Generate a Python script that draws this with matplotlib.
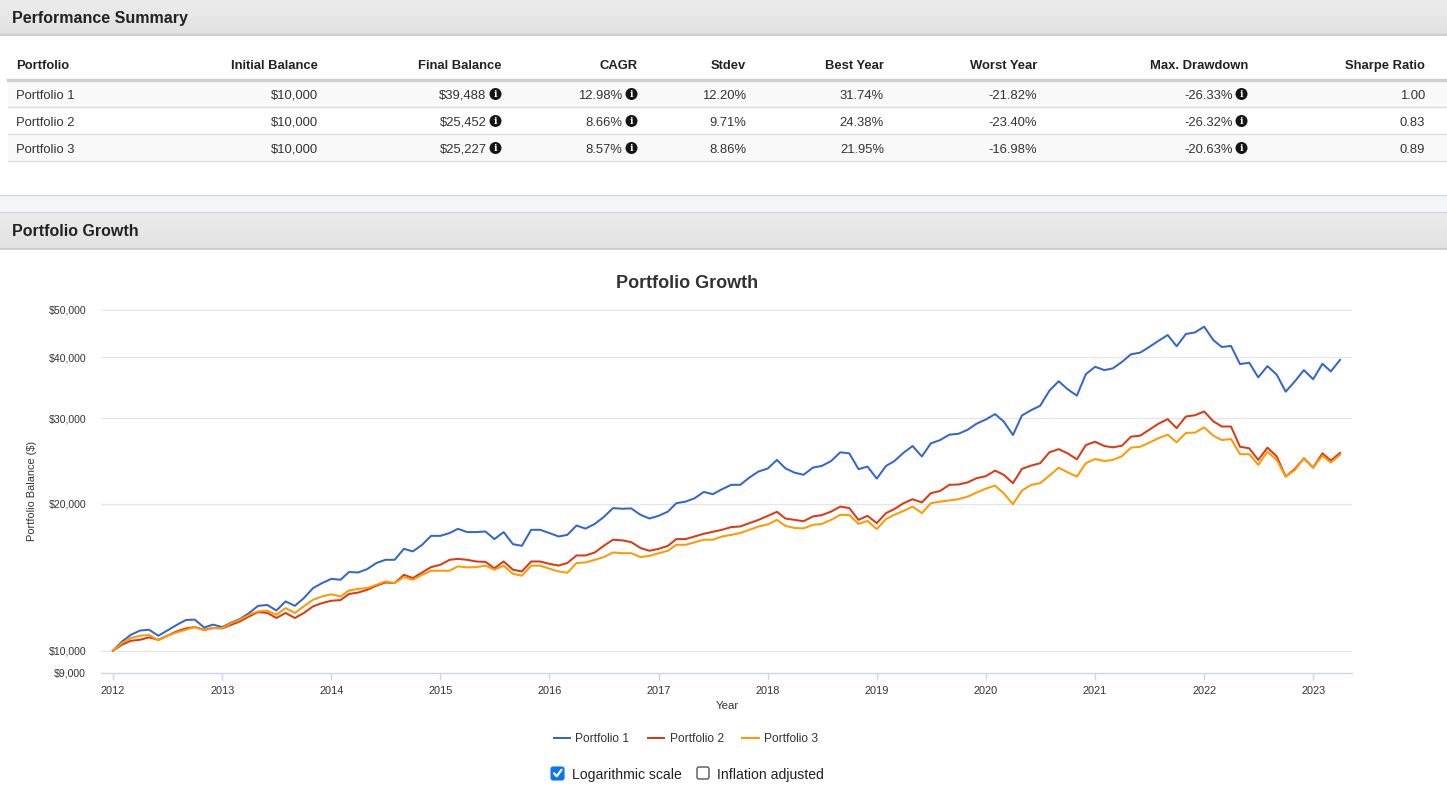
import matplotlib
matplotlib.use('Agg')
import matplotlib.pyplot as plt
import matplotlib.dates as mdates
import numpy as np
import pandas as pd
from matplotlib.patches import Rectangle, FancyBboxPatch, Circle
from matplotlib.ticker import FixedLocator, FuncFormatter, NullLocator
from matplotlib.colors import LinearSegmentedColormap

plt.rcParams['font.family'] = ['Liberation Sans', 'DejaVu Sans']

# ---------------- data ----------------
portfolios = ['Portfolio 1', 'Portfolio 2', 'Portfolio 3']
initial_balance = [10000, 10000, 10000]
final_balance = [39488, 25452, 25227]
cagr = [12.98, 8.66, 8.57]
stdev = [12.20, 9.71, 8.86]
best_year = [31.74, 24.38, 21.95]
worst_year = [-21.82, -23.40, -16.98]
max_drawdown = [-26.33, -26.32, -20.63]
sharpe = [1.00, 0.83, 0.89]

start_month = '2012-01-01'
year_ticks = list(range(2012, 2024))
y_ticks = [9000, 10000, 20000, 30000, 40000, 50000]

portfolio_1 = [
    10000, 10450, 10780, 11000, 11040, 10730, 11000, 11290, 11560, 11580, 11160, 11310,
    11180, 11430, 11610, 11950, 12360, 12410, 12090, 12620, 12360, 12820, 13440, 13760,
    14040, 13980, 14500, 14470, 14700, 15130, 15360, 15360, 16180, 15980, 16490, 17200,
    17200, 17430, 17780, 17510, 17510, 17560, 16940, 17510, 16540, 16410, 17700, 17700,
    17430, 17150, 17280, 18060, 17800, 18200, 18800, 19610, 19550, 19580, 19000, 18670,
    18910, 19290, 20070, 20220, 20540, 21170, 20940, 21440, 21890, 21890, 22660, 23310,
    23640, 24620, 23670, 23180, 22950, 23740, 23930, 24490, 25520, 25400, 23570, 23860,
    22540, 23930, 24490, 25480, 26290, 25030, 26620, 27040, 27740, 27850, 28380, 29210,
    29800, 30570, 29520, 27700, 30370, 31150, 31790, 34150, 35700, 34380, 33360, 36910,
    38220, 37630, 37930, 39110, 40550, 40870, 41970, 43200, 44410, 42110, 44630, 44950,
    46200, 43340, 41970, 42180, 38720, 38960, 36360, 38350, 36830, 33990, 35700, 37630,
    36040, 38770, 37400, 39488]
portfolio_2 = [
    10000, 10290, 10480, 10530, 10650, 10530, 10730, 10950, 11110, 11180, 11040, 11130,
    11110, 11310, 11480, 11760, 12000, 11950, 11670, 11950, 11670, 11950, 12330, 12520,
    12660, 12700, 13070, 13160, 13330, 13590, 13800, 13760, 14310, 14090, 14470, 14840,
    15000, 15360, 15430, 15360, 15240, 15210, 14760, 15240, 14660, 14540, 15240, 15240,
    15070, 14950, 15130, 15680, 15680, 15900, 16410, 16890, 16840, 16700, 16240, 16030,
    16180, 16410, 16940, 16940, 17150, 17370, 17530, 17700, 17930, 17980, 18270, 18550,
    18900, 19270, 18670, 18550, 18430, 18850, 18970, 19290, 19750, 19610, 18550, 18910,
    18270, 19150, 19520, 20070, 20450, 20140, 21040, 21260, 21890, 21920, 22140, 22580,
    22800, 23410, 22950, 22060, 23600, 23970, 24240, 25520, 25910, 25400, 24690, 26410,
    26830, 26290, 26130, 26330, 27480, 27610, 28380, 29210, 29850, 28610, 30230, 30400,
    30950, 29540, 28830, 28830, 26200, 26010, 24620, 26090, 25030, 22760, 23600, 24810,
    23740, 25400, 24540, 25452]
portfolio_3 = [
    10000, 10370, 10620, 10730, 10770, 10500, 10730, 10900, 11040, 11180, 11010, 11130,
    11130, 11400, 11570, 11850, 12040, 12080, 11850, 12230, 11950, 12330, 12720, 12920,
    13050, 12920, 13290, 13390, 13440, 13650, 13870, 13760, 14160, 13980, 14310, 14590,
    14590, 14590, 14890, 14820, 14840, 14940, 14660, 14940, 14380, 14250, 14940, 14940,
    14730, 14540, 14450, 15130, 15170, 15360, 15560, 15900, 15850, 15850, 15560, 15650,
    15850, 16030, 16490, 16490, 16680, 16890, 16890, 17150, 17280, 17430, 17700, 17980,
    18150, 18550, 18030, 17850, 17820, 18120, 18200, 18550, 19000, 18970, 18200, 18460,
    17760, 18620, 19000, 19350, 19750, 19150, 20070, 20220, 20330, 20450, 20700, 21100,
    21500, 21800, 21040, 19970, 21300, 21890, 22060, 22860, 23740, 23220, 22760, 24240,
    24730, 24490, 24620, 25060, 26090, 26200, 26710, 27280, 27740, 26760, 27970, 28000,
    28700, 27600, 27040, 27180, 25300, 25300, 24050, 25600, 24620, 22760, 23480, 24810,
    23740, 25120, 24310, 25227]

series = [portfolio_1, portfolio_2, portfolio_3]
colors = ['#3366cc', '#dc3912', '#ff9900']

# ---------------- figure ----------------
W, H = 1447, 794
PT = 0.72  # points per pixel at 100 dpi
fig = plt.figure(figsize=(W / 100, H / 100), dpi=100)
fig.patch.set_facecolor('white')

bg = fig.add_axes([0, 0, 1, 1], zorder=0)
bg.set_xlim(0, W)
bg.set_ylim(H, 0)
bg.axis('off')

head_cmap = LinearSegmentedColormap.from_list('hd', ['#ececec', '#e1e1e1'])
grad = np.linspace(0, 1, 50).reshape(-1, 1)


def header_bar(y0, y1, title):
    bg.imshow(grad, extent=(0, W, y1, y0), aspect='auto', cmap=head_cmap, zorder=1)
    bg.plot([0, W], [y1 - 0.5, y1 - 0.5], color='#c8c8c8', lw=1.2, zorder=2)
    bg.text(12, (y0 + y1) / 2 + 6, title, fontsize=16 * PT, fontweight='bold',
            color='#222222', ha='left', va='baseline', zorder=3)


header_bar(0, 35, 'Performance Summary')
# separator band
bg.add_patch(Rectangle((0, 195), W, 17, facecolor='#f4f5f8', edgecolor='none', zorder=1))
bg.plot([0, W], [195, 195], color='#d8d8d8', lw=1.0, zorder=2)
bg.plot([0, W], [212, 212], color='#d8d8d8', lw=1.0, zorder=2)
header_bar(212, 249, 'Portfolio Growth')

# ---------------- table ----------------
col_right = [318, 502, 638, 746, 884, 1037, 1248, 1425]
col_names = ['Initial Balance', 'Final Balance', 'CAGR', 'Stdev', 'Best Year',
             'Worst Year', 'Max. Drawdown', 'Sharpe Ratio']
has_icon = [False, True, True, False, False, False, True, False]
head_base = 69
row_mid = [94, 121, 148]
row_top = [80, 107, 134]
row_bg = ['#f9f9f9', '#ffffff', '#f9f9f9']

bg.text(16, head_base, 'Portfolio', fontsize=13 * PT, fontweight='bold', color='#222222',
        ha='left', va='baseline', zorder=3)
for name, xr in zip(col_names, col_right):
    bg.text(xr, head_base, name, fontsize=13 * PT, fontweight='bold', color='#222222',
            ha='right', va='baseline', zorder=3)

for i in range(3):
    bg.add_patch(Rectangle((8, row_top[i]), W - 8, 27, facecolor=row_bg[i],
                           edgecolor='none', zorder=1))
    bg.plot([8, W], [row_top[i] + 27, row_top[i] + 27], color='#dddddd', lw=1.0, zorder=2)
bg.plot([8, W], [80, 80], color='#cfcfcf', lw=2.4, zorder=2)


def info_icon(cx, cy):
    bg.add_patch(Circle((cx, cy), 6.0, facecolor='#151515', edgecolor='none', zorder=4))
    bg.text(cx, cy + 0.4, 'i', fontsize=9.5 * PT, fontweight='bold', color='white',
            ha='center', va='center', family='DejaVu Serif', zorder=5)


for i in range(3):
    vals = [f'${initial_balance[i]:,}', f'${final_balance[i]:,}', f'{cagr[i]:.2f}%',
            f'{stdev[i]:.2f}%', f'{best_year[i]:.2f}%', f'{worst_year[i]:.2f}%',
            f'{max_drawdown[i]:.2f}%', f'{sharpe[i]:.2f}']
    yb = row_mid[i] + 4.7
    bg.text(16, yb, portfolios[i], fontsize=13 * PT, color='#333333', ha='left',
            va='baseline', zorder=3)
    for v, xr, ic in zip(vals, col_right, has_icon):
        if ic:
            bg.text(xr - 15.5, yb, v, fontsize=13 * PT, color='#333333', ha='right',
                    va='baseline', zorder=3)
            info_icon(xr - 6.5, row_mid[i])
        else:
            bg.text(xr, yb, v, fontsize=13 * PT, color='#333333', ha='right',
                    va='baseline', zorder=3)

# ---------------- chart ----------------
ax_left, ax_right, ax_top, ax_bottom = 101, 1352, 300, 673
ax = fig.add_axes([ax_left / W, (H - ax_bottom) / H, (ax_right - ax_left) / W,
                   (ax_bottom - ax_top) / H], zorder=2)
ax.patch.set_alpha(0)

dates = pd.date_range(start_month, periods=len(portfolio_1), freq='MS')
lines = []
for s, c, name in zip(series, colors, portfolios):
    ln, = ax.plot(dates, s, color=c, lw=2 * PT, label=name, solid_joinstyle='round')
    lines.append(ln)

ax.set_yscale('log')
ax.set_ylim(9000, 52400)
x0 = pd.Timestamp('2012-01-01') - pd.Timedelta(days=40)
x1 = pd.Timestamp('2023-01-01') + pd.Timedelta(days=130)
ax.set_xlim(x0, x1)

ax.yaxis.set_major_locator(FixedLocator(y_ticks))
ax.yaxis.set_minor_locator(NullLocator())
ax.yaxis.set_major_formatter(FuncFormatter(lambda v, p: f'${v:,.0f}'))
ax.tick_params(axis='y', length=0, pad=15 * PT, labelsize=10.5 * PT, labelcolor='#333333')
for v in y_ticks[1:]:
    ax.axhline(v, color='#e6e6e6', lw=1.0, zorder=0)

ax.set_xticks([pd.Timestamp(f'{y}-01-01') for y in year_ticks])
ax.xaxis.set_major_formatter(mdates.DateFormatter('%Y'))
ax.xaxis.set_minor_locator(NullLocator())
ax.tick_params(axis='x', direction='out', length=7 * PT, width=1.0, color='#ccd6eb',
               pad=5.5 * PT, labelsize=11 * PT, labelcolor='#333333')

for sp in ['left', 'right', 'top']:
    ax.spines[sp].set_visible(False)
ax.spines['bottom'].set_color('#ccd6eb')
ax.spines['bottom'].set_linewidth(1.0)

bg.text(687, 284, 'Portfolio Growth', fontsize=18 * PT, fontweight='bold', color='#333333',
        ha='center', va='center', zorder=3)
bg.text(727, 706, 'Year', fontsize=11.5 * PT, color='#333333', ha='center', va='center',
        zorder=3)
bg.text(32, 491, 'Portfolio Balance ($)', fontsize=11 * PT, color='#333333', ha='center',
        va='center', rotation=90, zorder=3)

leg = fig.legend(handles=lines, loc='center', bbox_to_anchor=(686 / W, 1 - 739 / H),
                 ncol=3, frameon=False, fontsize=12 * PT, handlelength=1.35,
                 handletextpad=0.45, columnspacing=1.55, labelcolor='#333333')
for lh in leg.get_lines():
    lh.set_linewidth(2 * PT)

# checkboxes
bg.add_patch(FancyBboxPatch((551, 767), 13, 13, boxstyle='round,pad=0,rounding_size=2.2',
                            facecolor='#0a75f0', edgecolor='#0a75f0', lw=0.8, zorder=3))
bg.plot([554, 556.8, 561.5], [773.3, 776.3, 769.8], color='white', lw=1.6,
        solid_capstyle='round', solid_joinstyle='round', zorder=4)
bg.text(572, 775, 'Logarithmic scale', fontsize=14 * PT, color='#222222', ha='left',
        va='center', zorder=3)
bg.add_patch(FancyBboxPatch((697, 767), 12, 12, boxstyle='round,pad=0,rounding_size=2',
                            facecolor='white', edgecolor='#555555', lw=1.0, zorder=3))
bg.text(717, 775, 'Inflation adjusted', fontsize=14 * PT, color='#222222', ha='left',
        va='center', zorder=3)

bg.set_xlim(0, W)
bg.set_ylim(H, 0)

fig.savefig('out.png', dpi=100, facecolor='white')
